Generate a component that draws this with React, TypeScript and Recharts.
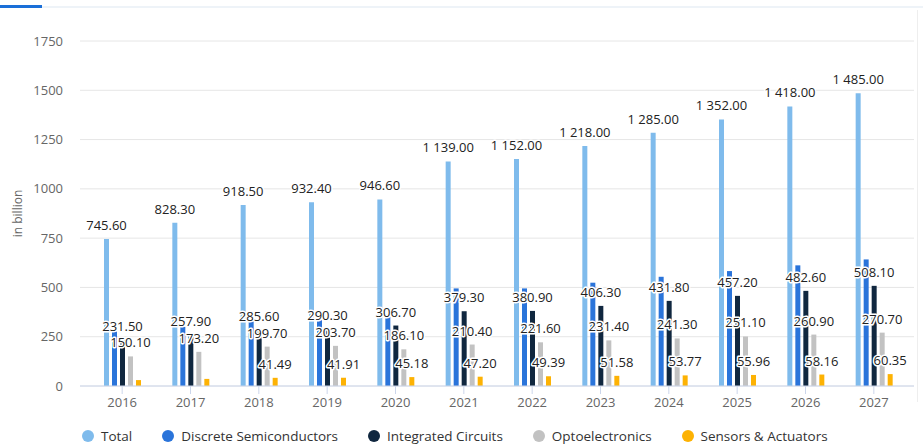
import { BarChart, Bar, XAxis, YAxis, CartesianGrid, Legend, LabelList } from "recharts";

const years = ["2016", "2017", "2018", "2019", "2020", "2021", "2022", "2023", "2024", "2025", "2026", "2027"];
const total = [745.6, 828.3, 918.5, 932.4, 946.6, 1139, 1152, 1218, 1285, 1352, 1418, 1485];
// discrete has no labels in the picture
const discrete = [278, 300, 329, 334, 352, 495, 495, 524, 554, 583, 612, 642];
const integrated = [231.5, 257.9, 285.6, 290.3, 306.7, 379.3, 380.9, 406.3, 431.8, 457.2, 482.6, 508.1];
const opto = [150.1, 173.2, 199.7, 203.7, 186.1, 210.4, 221.6, 231.4, 241.3, 251.1, 260.9, 270.7];
const sensors = [30, 36, 41.49, 41.91, 45.18, 47.2, 49.39, 51.58, 53.77, 55.96, 58.16, 60.35];
const yTicks = [0, 250, 500, 750, 1000, 1250, 1500, 1750];
const unlabeledSensorYears = ["2016", "2017"];

const series = [
  { key: "total", name: "Total", color: "#7fbbec", labels: true },
  { key: "discrete", name: "Discrete Semiconductors", color: "#2a74da", labels: false },
  { key: "integrated", name: "Integrated Circuits", color: "#10273f", labels: true },
  { key: "opto", name: "Optoelectronics", color: "#c2c2c2", labels: true },
  { key: "sensors", name: "Sensors & Actuators", color: "#fdb203", labels: true },
];

const data = years.map((year, i) => ({
  year,
  total: total[i],
  discrete: discrete[i],
  integrated: integrated[i],
  opto: opto[i],
  sensors: sensors[i],
}));

const FONT = "'Open Sans', 'DejaVu Sans', sans-serif";

const fmt = (v: number) => {
  const [i, d] = v.toFixed(2).split(".");
  return i.replace(/\B(?=(\d{3})+(?!\d))/g, " ") + "." + d;
};

const makeLabel = (key: string) => (props: any) => {
  const vb = props.viewBox ?? props;
  const { x, y, width } = vb;
  if (key === "sensors" && unlabeledSensorYears.includes(years[props.index])) return null;
  return (
    <text
      x={x + width / 2}
      y={y - 9}
      textAnchor="middle"
      fontFamily={FONT}
      fontSize={13}
      fontWeight={500}
      fill="#222"
      stroke="#fff"
      strokeWidth={3}
      strokeLinejoin="round"
      paintOrder="stroke"
    >
      {fmt(Number(props.value))}
    </text>
  );
};

const renderLegend = () => (
  <div
    style={{
      display: "flex",
      alignItems: "center",
      paddingLeft: 74,
      height: 20,
      fontFamily: FONT,
      fontSize: 13.5,
      color: "#333",
    }}
  >
    {series.map((s) => (
      <div key={s.key} style={{ display: "flex", alignItems: "center", marginRight: 30 }}>
        <span
          style={{ width: 12, height: 12, borderRadius: 6, background: s.color, display: "inline-block", marginRight: 7 }}
        />
        <span>{s.name}</span>
      </div>
    ))}
  </div>
);

const YLabel = ({ viewBox }: any) => {
  const cx = viewBox.x + 9;
  const cy = viewBox.y + viewBox.height / 2;
  return (
    <text
      x={cx}
      y={cy}
      transform={`rotate(-90 ${cx} ${cy})`}
      textAnchor="middle"
      dominantBaseline="central"
      fontFamily={FONT}
      fontSize={12}
      fill="#666"
    >
      in billion
    </text>
  );
};

export default function App() {
  return (
    <div style={{ position: "relative", width: 923, height: 446, background: "#fff" }}>
      <style>{"body{margin:0}"}</style>
      <div style={{ position: "absolute", left: 0, top: 6, width: 923, height: 2, background: "#eef3f8" }} />
      <div style={{ position: "absolute", left: 0, top: 5, width: 42, height: 3, background: "#1a6fd8" }} />
      <div style={{ position: "absolute", left: 917, top: 10, width: 1, height: 392, background: "#eeeeee" }} />
      <BarChart
        width={923}
        height={446}
        data={data}
        margin={{ top: 41, right: 9, left: 8, bottom: 0 }}
        barSize={5}
        barGap={3}
      >
        <CartesianGrid horizontal vertical={false} stroke="#e6e6e6" />
        <XAxis
          dataKey="year"
          height={40}
          padding={{ left: 8, right: 6 }}
          axisLine={{ stroke: "#ccd6eb" }}
          tickLine={{ stroke: "#ccd6eb" }}
          tickSize={8}
          tickMargin={4}
          tick={{ fill: "#666", fontSize: 13, fontFamily: FONT }}
        />
        <YAxis
          width={72}
          domain={[0, 1750]}
          ticks={yTicks}
          axisLine={false}
          tickLine={false}
          tickSize={0}
          tickMargin={17}
          tick={{ fill: "#666", fontSize: 13, fontFamily: FONT }}
          label={<YLabel />}
        />
        <Legend verticalAlign="bottom" height={20} content={renderLegend} />
        {series.map((s) => (
          <Bar key={s.key} dataKey={s.key} name={s.name} fill={s.color} isAnimationActive={false}>
            {s.labels && <LabelList dataKey={s.key} content={makeLabel(s.key)} />}
          </Bar>
        ))}
      </BarChart>
    </div>
  );
}
